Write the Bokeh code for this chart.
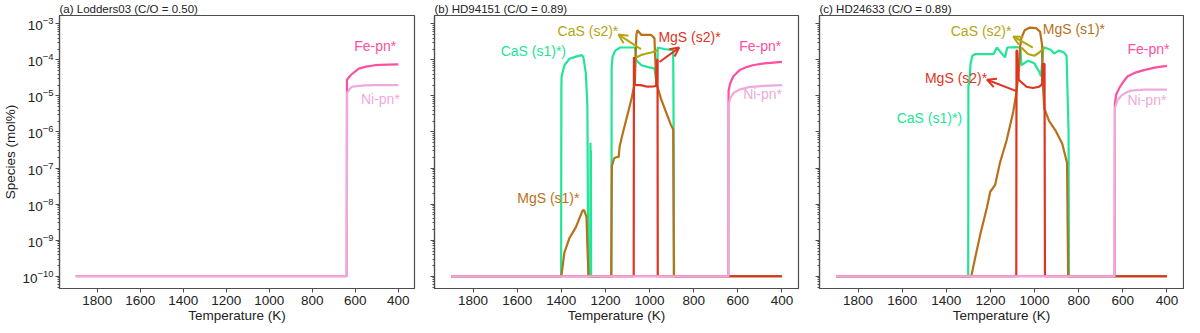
from bokeh.plotting import figure
from bokeh.models import (Range1d, FixedTicker, Label, Arrow, OpenHead,
                          CustomJSTickFormatter)
from bokeh.layouts import row
from bokeh.embed import file_html
from bokeh.resources import INLINE

# ---------------- data ----------------
TITLES = ["(a) Lodders03 (C/O = 0.50)", "(b) HD94151 (C/O = 0.89)", "(c) HD24633 (C/O = 0.89)"]
X_TICKS = [1800, 1600, 1400, 1200, 1000, 800, 600, 400]
Y_TICKS = [1e-10, 1e-9, 1e-8, 1e-7, 1e-6, 1e-5, 1e-4, 1e-3]

# Panel (a)
FE_A_T = [1900, 640, 639, 621, 584, 550, 510, 450, 400]
FE_A = [1e-10, 1e-10, 2.8e-5, 3.8e-5, 5.7e-5, 6.5e-5, 7.1e-5, 7.4e-5, 7.5e-5]
NI_A_T = [1900, 640, 638, 625, 614, 580, 555, 500, 400]
NI_A = [1e-10, 1e-10, 1.2e-5, 1.6e-5, 1.8e-5, 1.9e-5, 1.95e-5, 2.0e-5, 2.0e-5]

# Panel (b)
CAS1_B_T = [1900, 1401, 1400, 1399, 1386, 1363, 1334, 1307, 1300, 1289, 1282, 1278,
            1269, 1268, 1267, 1266, 1265, 1173, 1172, 1168, 1156, 1133, 1066,
            1062, 1059, 1037, 1007, 978, 970, 966, 963, 933, 904, 893, 891, 889, 400]
CAS1_B = [1e-10, 1e-10, 1.5e-5, 3.5e-5, 7.1e-5, 1.07e-4, 1.23e-4, 1.35e-4, 1.17e-4, 4.3e-5, 5.5e-6, 1e-10,
          1e-10, 5e-7, 1e-10, 3e-7, 1e-10, 1e-10, 6e-5, 1.2e-4, 1.8e-4, 2.2e-4, 2.2e-4,
          1.0e-4, 9.5e-5, 7.1e-5, 6.3e-5, 5.8e-5, 2.8e-5, 2.8e-5, 2.2e-4, 2.0e-4, 1.9e-4, 1.9e-4, 1e-6, 1e-10, 1e-10]
MGS1_B_T = [1900, 1400, 1386, 1363, 1334, 1304, 1297, 1286, 1282, 1277, 1174, 1171, 1160,
            1150, 1140, 1136, 1126, 1104, 1082, 1067, 1060, 1055, 1037, 993, 978, 970, 948,
            904, 893, 890, 400]
MGS1_B = [1e-10, 1e-10, 4.6e-10, 1.15e-9, 2.3e-9, 6.6e-9, 6.8e-9, 4.4e-9, 6.9e-10, 1e-10, 1e-10, 1.15e-7, 1.9e-7,
          2.0e-7, 2.05e-7, 3.9e-7, 7.1e-7, 2.45e-6, 8.3e-6, 2.3e-5, 4.9e-4, 6.6e-4, 4.9e-4, 4.9e-4, 4.0e-4, 2.3e-5, 8.3e-6,
          1.6e-6, 1.17e-6, 1e-10, 1e-10]
CAS2_B_T = [1062, 1040, 1022, 993, 975, 964]
CAS2_B = [1.17e-4, 1.35e-4, 1.45e-4, 1.6e-4, 1.72e-4, 1.9e-4]
MGS2_B_T = [1900, 1072, 1071, 1068, 1060, 1040, 1010, 980, 970, 967, 964, 963, 400]
MGS2_B = [1e-10, 1e-10, 1.2e-4, 2.1e-5, 2.0e-5, 2.0e-5, 1.8e-5, 1.85e-5, 1.9e-5, 1.0e-4, 1.0e-4, 1e-10, 1e-10]
FE_B_T = [1900, 643, 642, 635, 620, 592, 560, 533, 480, 400]
FE_B = [1e-10, 1e-10, 1.4e-5, 2.2e-5, 3.5e-5, 5.2e-5, 6.3e-5, 7.1e-5, 8.0e-5, 8.8e-5]
NI_B_T = [1900, 643, 642, 635, 620, 592, 550, 480, 400]
NI_B = [1e-10, 1e-10, 5.5e-6, 8.5e-6, 1.2e-5, 1.5e-5, 1.75e-5, 1.9e-5, 2.0e-5]

# Panel (c)
CAS1_C_T = [1900, 1301, 1300, 1297, 1290, 1282, 1268, 1186, 1171, 1149, 1134, 1124, 1082,
            1064, 1060, 1030, 1001, 979, 971, 960, 956, 927, 912, 890, 867, 855, 846, 844, 400]
CAS1_C = [1e-10, 1e-10, 2e-5, 2.1e-5, 8e-5, 1.3e-4, 1.45e-4, 1.45e-4, 2.2e-4, 1.5e-4, 1.17e-4, 2.2e-4, 2.25e-4,
          2.2e-4, 7.1e-5, 9.5e-5, 8.0e-5, 4.7e-5, 3.5e-5, 2.2e-4, 2.2e-4, 1.9e-4, 1.5e-4, 1.8e-4, 1.6e-4, 1.3e-4, 1e-6, 1e-10, 1e-10]
MGS1_C_T = [1900, 1287, 1270, 1245, 1216, 1201, 1179, 1157, 1127, 1097, 1082, 1070, 1066, 1060,
            1045, 1023, 993, 975, 966, 963, 956, 934, 904, 875, 853, 848, 400]
MGS1_C = [1e-10, 1e-10, 3.1e-10, 1.55e-9, 8.1e-9, 2.2e-8, 3.4e-8, 1.4e-7, 5.8e-7, 3.6e-6, 1.26e-5, 6.3e-5, 2.2e-4, 4.0e-4,
          6.6e-4, 7.8e-4, 7.6e-4, 6.0e-4, 2.6e-4, 2.3e-5, 4.5e-6, 2.0e-6, 1.07e-6, 4.8e-7, 1.4e-7, 1e-10, 1e-10]
CAS2_C_T = [1060, 1030, 1001, 979, 956]
CAS2_C = [2.2e-4, 1.45e-4, 1.3e-4, 1.6e-4, 2.2e-4]
MGS2_C_T = [1900, 1083, 1082, 1079, 1072, 1037, 1008, 979, 966, 963, 955, 953, 400]
MGS2_C = [1e-10, 1e-10, 1.8e-4, 1.8e-4, 2.8e-5, 1.8e-5, 1.66e-5, 1.8e-5, 2.1e-5, 7.8e-5, 7.8e-5, 1e-10, 1e-10]
FE_C_T = [1900, 637, 636, 630, 615, 595, 578, 540, 504, 450, 400]
FE_C = [1e-10, 1e-10, 6e-6, 1.1e-5, 1.7e-5, 2.6e-5, 3.5e-5, 4.5e-5, 5.2e-5, 6.2e-5, 6.8e-5]
NI_C_T = [1900, 638, 636, 625, 608, 585, 563, 504, 400]
NI_C = [1e-10, 1e-10, 4.5e-6, 7.5e-6, 1.0e-5, 1.25e-5, 1.4e-5, 1.5e-5, 1.5e-5]

# ---------------- style ----------------
C_FE = "#ff4f9f"
C_NI = "#eeaadd"
C_CAS1 = "#22e597"
C_CAS2 = "#b3a514"
C_MGS1 = "#b7711b"
C_MGS2 = "#de3421"
FRAME = "#4d4d4d"
FONT = "Liberation Sans"
LW = 2.2


def make_panel(title, series, labels, arrows, first, width, bl, br):
    p = figure(width=width, height=325, x_range=Range1d(1975, 325),
               y_range=Range1d(10 ** -10.34, 10 ** -2.77), y_axis_type="log",
               output_backend="svg", toolbar_location=None,
               min_border_left=bl, min_border_right=br, min_border_top=2,
               min_border_bottom=30)
    p.title.text = title
    p.title.text_font = FONT
    p.title.text_font_size = "11.5px"
    p.title.text_font_style = "normal"
    p.title.text_color = "#222222"
    p.title.align = "left"
    p.title.standoff = 1
    p.grid.visible = False
    p.outline_line_color = FRAME
    p.outline_line_width = 1.2
    p.background_fill_color = "white"
    p.border_fill_color = "white"

    for ax in (p.xaxis[0], p.yaxis[0]):
        ax.axis_line_color = FRAME
        ax.axis_line_width = 1.2
        ax.major_tick_line_color = FRAME
        ax.minor_tick_line_color = FRAME
        ax.major_tick_in = 0
        ax.major_tick_out = 4
        ax.minor_tick_in = 0
        ax.minor_tick_out = 2
        ax.major_label_text_font = FONT
        ax.major_label_text_font_size = "13.5px"
        ax.major_label_text_color = "#222222"
        ax.major_label_text_line_height = 1.0
        ax.axis_label_text_font = FONT
        ax.axis_label_text_font_size = "13.5px"
        ax.axis_label_text_font_style = "normal"
        ax.axis_label_text_color = "#222222"
        ax.axis_label_text_line_height = 1.0

    p.xaxis.ticker = FixedTicker(ticks=X_TICKS)
    p.xaxis.major_label_standoff = 3
    p.xaxis.axis_label = "Temperature (K)"
    p.xaxis.axis_label_standoff = 0

    minors = [k * 10.0 ** e for e in range(-11, -2) for k in range(2, 10)]
    p.yaxis.ticker = FixedTicker(ticks=Y_TICKS, minor_ticks=minors)
    p.yaxis.major_label_standoff = 2
    if first:
        p.yaxis.axis_label = "Species (mol%)"
        p.yaxis.axis_label_standoff = 1
    else:
        p.yaxis.formatter = CustomJSTickFormatter(code="return ''")

    for xs, ys, col in series:
        p.line(xs, ys, line_color=col, line_width=LW)

    for (x, y, txt, col) in labels:
        p.add_layout(Label(x=x, y=y, text=txt, text_color=col, text_font=FONT,
                           text_font_size="14px", text_baseline="middle",
                           text_align="left"))
    for (x0, y0, x1, y1, col) in arrows:
        p.add_layout(Arrow(end=OpenHead(size=9, line_color=col, line_width=2),
                           x_start=x0, y_start=y0, x_end=x1, y_end=y1,
                           line_color=col, line_width=2))
    return p


pa = make_panel(TITLES[0],
                [(FE_A_T, FE_A, C_FE), (NI_A_T, NI_A, C_NI)],
                [(605, 10 ** -3.62, "Fe-pn*", C_FE), (574, 10 ** -5.08, "Ni-pn*", C_NI)],
                [], True, 420, 50, 6)

pb = make_panel(TITLES[1],
                [(CAS1_B_T, CAS1_B, C_CAS1), (MGS1_B_T, MGS1_B, C_MGS1),
                 (CAS2_B_T, CAS2_B, C_CAS2), (MGS2_B_T, MGS2_B, C_MGS2),
                 (FE_B_T, FE_B, C_FE), (NI_B_T, NI_B, C_NI)],
                [(1675, 10 ** -3.75, "CaS (s1)*)", C_CAS1),
                 (1417, 10 ** -3.19, "CaS (s2)*", C_CAS2),
                 (960, 10 ** -3.38, "MgS (s2)*", C_MGS2),
                 (1600, 10 ** -7.84, "MgS (s1)*", C_MGS1),
                 (594, 10 ** -3.62, "Fe-pn*", C_FE),
                 (576, 10 ** -4.96, "Ni-pn*", C_NI)],
                [(1039, 10 ** -3.70, 1141, 10 ** -3.30, C_CAS2),
                 (955, 10 ** -4.06, 866, 10 ** -3.66, C_MGS2)],
                False, 383, 14, 5)

pc = make_panel(TITLES[2],
                [(CAS1_C_T, CAS1_C, C_CAS1), (MGS1_C_T, MGS1_C, C_MGS1),
                 (CAS2_C_T, CAS2_C, C_CAS2), (MGS2_C_T, MGS2_C, C_MGS2),
                 (FE_C_T, FE_C, C_FE), (NI_C_T, NI_C, C_NI)],
                [(1380, 10 ** -3.19, "CaS (s2)*", C_CAS2),
                 (963, 10 ** -3.15, "MgS (s1)*", C_MGS1),
                 (1497, 10 ** -4.51, "MgS (s2)*", C_MGS2),
                 (1625, 10 ** -5.61, "CaS (s1)*)", C_CAS1),
                 (579, 10 ** -3.71, "Fe-pn*", C_FE),
                 (579, 10 ** -5.12, "Ni-pn*", C_NI)],
                [(1008, 10 ** -3.66, 1097, 10 ** -3.35, C_CAS2),
                 (1085, 10 ** -4.86, 1216, 10 ** -4.55, C_MGS2)],
                False, 381, 16, 1)

layout = row(pa, pb, pc)
open("out.html", "w").write(file_html(layout, INLINE))
